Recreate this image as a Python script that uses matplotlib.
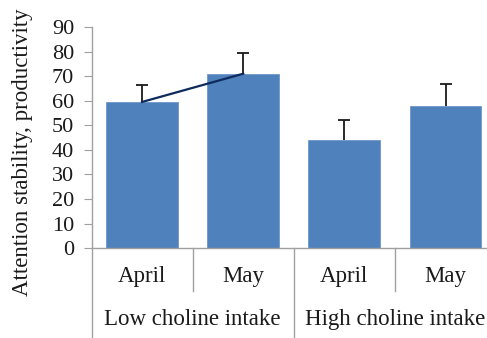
import matplotlib.pyplot as plt
import matplotlib.transforms as mtransforms

months = ["April", "May", "April", "May"]
groups = ["Low choline intake", "High choline intake"]
means = [59.5, 71.0, 44.0, 58.0]
upper_err = [7.0, 8.5, 8.0, 8.7]

plt.rcParams['font.family'] = ['Liberation Serif', 'DejaVu Serif']

fig = plt.figure(figsize=(4.87, 3.38), dpi=100)
ax = fig.add_axes([0.188, 0.266, 0.812, 0.654])

x = list(range(len(means)))
tops = [m + e for m, e in zip(means, upper_err)]

ax.bar(x, means, width=0.71, color='#4F81BD', edgecolor='#6F97CB', linewidth=0.6,
       zorder=2)
# upper-only error bars
ax.vlines(x, means, tops, color='#1a1a1a', lw=1.3, zorder=3)
ax.plot(x, tops, ls='none', marker='_', ms=8, mew=1.3, color='#1a1a1a', zorder=3)

# trend between the two low-intake months
ax.plot(x[:2], means[:2], color='#0F2A5C', lw=1.6, zorder=4)

ax.set_xlim(-0.5, 3.41)
ax.set_ylim(0, 90)
ax.set_yticks(range(0, 91, 10))
ax.tick_params(axis='y', labelsize=16, length=5.5, width=0.8, color='#A0A0A0',
               pad=7, labelcolor='#1a1a1a')
ax.set_xticks([])
fig.text(23 / 487, 1 - 152 / 338, "Attention stability, productivity",
         rotation=90, ha='center', va='center', fontsize=16.5, color='#1a1a1a')

for side in ['top', 'right']:
    ax.spines[side].set_visible(False)
for side in ['left', 'bottom']:
    ax.spines[side].set_color('#A0A0A0')
    ax.spines[side].set_linewidth(1.0)

# two-level category axis drawn below the plot
trans = mtransforms.blended_transform_factory(ax.transData, ax.transAxes)
for xi, m in zip(x, months):
    ax.text(xi, -0.13, m, transform=trans, ha='center', va='center',
            fontsize=16.5, color='#1a1a1a')
for gi, g in enumerate(groups):
    ax.text(2 * gi + 0.5, -0.325, g, transform=trans, ha='center', va='center',
            fontsize=16.5, color='#1a1a1a')
for b in [0.5, 2.5]:
    ax.plot([b, b], [0, -0.195], transform=trans, color='#A0A0A0', lw=1.0,
            clip_on=False)
for b in [-0.5, 1.5]:
    ax.plot([b, b], [0, -0.41], transform=trans, color='#A0A0A0', lw=1.0,
            clip_on=False)

fig.savefig("out.png", dpi=100)
